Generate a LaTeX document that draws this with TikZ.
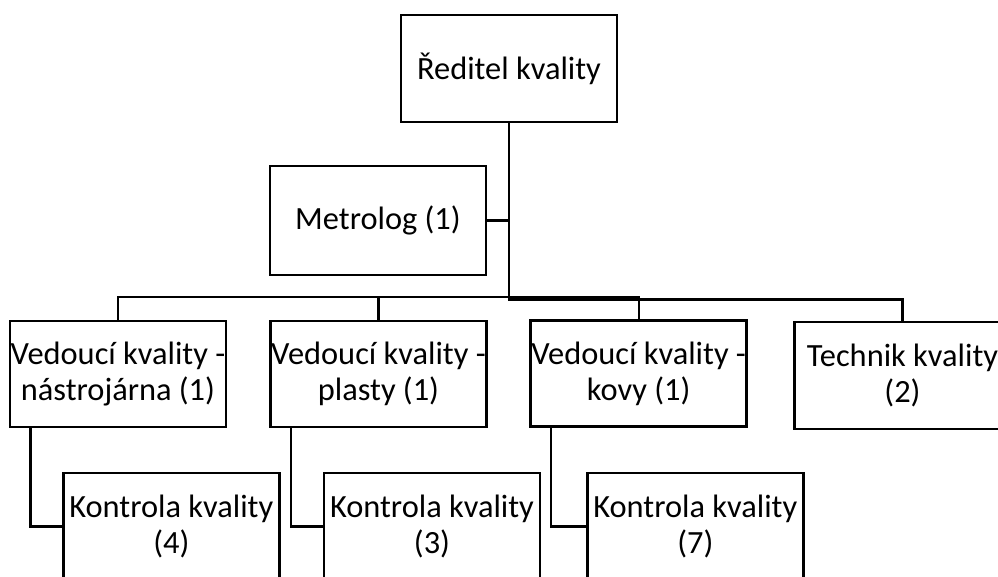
\documentclass[tikz,border=0pt]{standalone}
\usepackage{fontspec}
\setmainfont{Carlito}
\usetikzlibrary{calc}
\begin{document}
\begin{tikzpicture}[x=1pt,y=-1pt,
  orgbox/.style={draw=black, line width=2.8pt, fill=white, minimum width=216pt,
    minimum height=107pt, inner sep=0pt, align=center,
    font=\fontsize{32.4}{36}\selectfont},
  link/.style={draw=black, line width=2.4pt}]
  \useasboundingbox (0,0) rectangle (998,576);
  \clip (0,0) rectangle (998,576);

  % bus levels below the director
  \coordinate (busL) at (0,297);
  \coordinate (busR) at (0,299.5);

  % boxes
  \node[orgbox] (dir) at (509,68.5) {Ředitel kvality};
  \node[orgbox, minimum height=109pt] (metro) at (378,220.5) {Metrolog (1)};
  \node[orgbox, minimum height=106pt] (vnas) at (118,374) {Vedoucí kvality -\\nástrojárna (1)};
  \node[orgbox, minimum height=106pt] (vpla) at (378.5,374) {Vedoucí kvality -\\plasty (1)};
  \node[orgbox, minimum height=106pt] (vkov) at (638.7,373.5) {Vedoucí kvality -\\kovy (1)};
  \node[orgbox] (tech) at (902.5,375.5) {Technik kvality\\(2)};
  \node[orgbox] (k4) at (171.3,526.5) {Kontrola kvality\\(4)};
  \node[orgbox] (k3) at (432,526.5) {Kontrola kvality\\(3)};
  \node[orgbox] (k7) at (695.3,526.5) {Kontrola kvality\\(7)};

  % connectors from the director
  \draw[link] (dir.south) -- (dir.south |- busL) -| (vnas.north);
  \draw[link] (dir.south) -- (dir.south |- busL) -| (vpla.north);
  \draw[link] (dir.south) -- (dir.south |- busL) -| (vkov.north);
  \draw[link] (dir.south) -- (dir.south |- busR) -| (tech.north);
  \draw[link] (metro.east) -- (metro.east -| dir.south);

  % connectors to the inspection teams
  \draw[link] ([xshift=21.7pt]vnas.south west) |- (k4.west);
  \draw[link] ([xshift=21.6pt]vpla.south west) |- (k3.west);
  \draw[link] ([xshift=21.6pt]vkov.south west) |- (k7.west);
\end{tikzpicture}
\end{document}
